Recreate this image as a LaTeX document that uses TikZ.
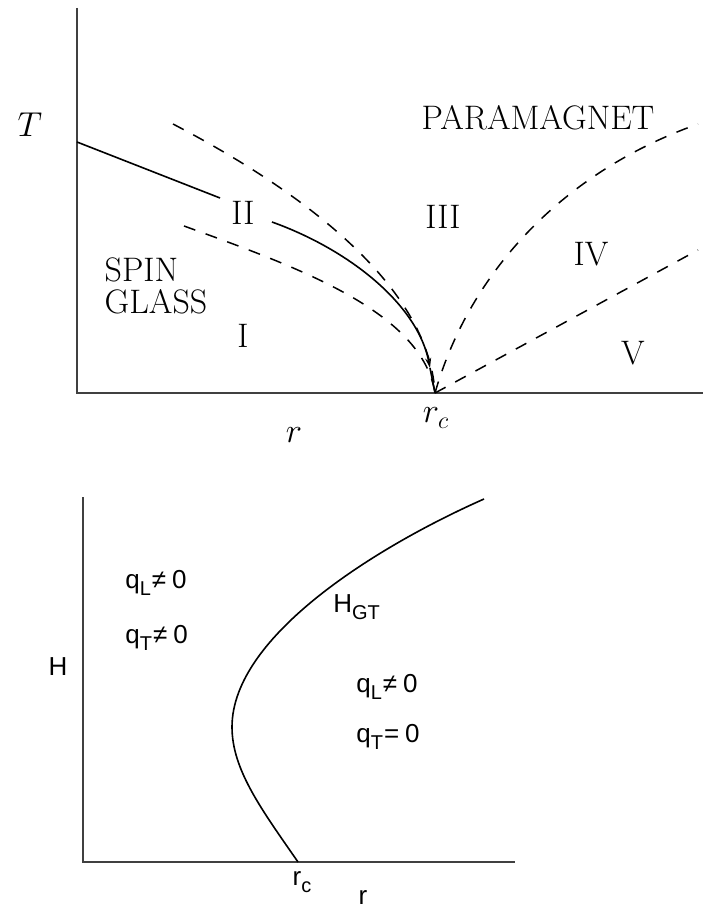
\documentclass[tikz,border=0pt]{standalone}
\usepackage{amsmath,amssymb}
\usepackage{fontspec}
\usepackage{tikz}
\usetikzlibrary{arrows.meta}
\newfontfamily\helv{Liberation Sans}
\newcommand{\lowidx}[1]{\raisebox{-0.55ex}{\fontsize{10}{11}\selectfont #1}}

\begin{document}
\begin{tikzpicture}[x=0.5pt,y=-0.5pt,>=Stealth,
    toplab/.style={font=\fontsize{17}{16}\selectfont, inner sep=0pt},
    botlab/.style={font=\helv\fontsize{13}{15}\selectfont, inner sep=0pt},
    axis/.style={line width=1pt, black!75},
    phase/.style={line width=0.8pt},
    dashline/.style={line width=0.75pt, dash pattern=on 6pt off 5.5pt}]

    \useasboundingbox (0,0) rectangle (703,909);

    % T versus r
    \draw[axis] (77,8) -- (77,393) -- (703,393);
    \coordinate (rc) at (435,393);

    % Solid line with arrow into r_c
    \draw[phase] (77,142) -- (220,198);
    \draw[phase,-{Stealth[length=5pt,width=3pt]}] (272,222) .. controls (350,250) and (418,305) .. (430,368);
    \draw[phase] (430,368) -- (rc);

    % Crossover lines
    \draw[dashline] (173,124) .. controls (290,185) and (428,280) .. (rc);
    \draw[dashline] (184,226) .. controls (300,268) and (422,312) .. (rc);
    \draw[dashline] (rc) .. controls (467,280) and (555,175) .. (698,124);
    \draw[dashline] (rc) -- (698,250);

    \node[toplab] (Tlab) at (30,125) {$T$};
    \node[toplab] (para) at (538,118) {PARAMAGNET};
    \node[toplab, align=left] (sg) at (156,286) {SPIN\\GLASS};
    \node[toplab] (reg1) at (243,336) {I};
    \node[toplab] (reg2) at (243,213) {II};
    \node[toplab] (reg3) at (443,217) {III};
    \node[toplab] (reg4) at (591,254) {IV};
    \node[toplab] (reg5) at (633,353) {V};
    \node[toplab] (rclab) at (436,418) {$r_c$};
    \node[toplab] (rlab) at (294,435) {$r$};

    % H versus r
    \draw[axis] (83,497) -- (83,862) -- (515,862);
    \draw[phase] (484,499) .. controls (380,545) and (232,635) .. (232,727)
        .. controls (232,770) and (262,810) .. (298,862);

    \node[botlab] (Hlab) at (58,667) {H};
    \node[botlab, anchor=base west] (qLa) at (125,588) {q\lowidx{L}\kern0.5pt≠\kern3pt0};
    \node[botlab, anchor=base west] (qTa) at (125,643) {q\lowidx{T}\kern0.5pt≠\kern3pt0};
    \node[botlab, anchor=base west] (hgt) at (333,612) {H\lowidx{GT}};
    \node[botlab, anchor=base west] (qLb) at (356,692) {q\lowidx{L}\kern0.5pt≠\kern3pt0};
    \node[botlab, anchor=base west] (qTb) at (356,742) {q\lowidx{T}\kern0.5pt=\kern3pt0};
    \node[botlab] (rcb) at (302,882) {r\lowidx{c}};
    \node[botlab] (rb) at (363,897) {r};

\end{tikzpicture}
\end{document}
